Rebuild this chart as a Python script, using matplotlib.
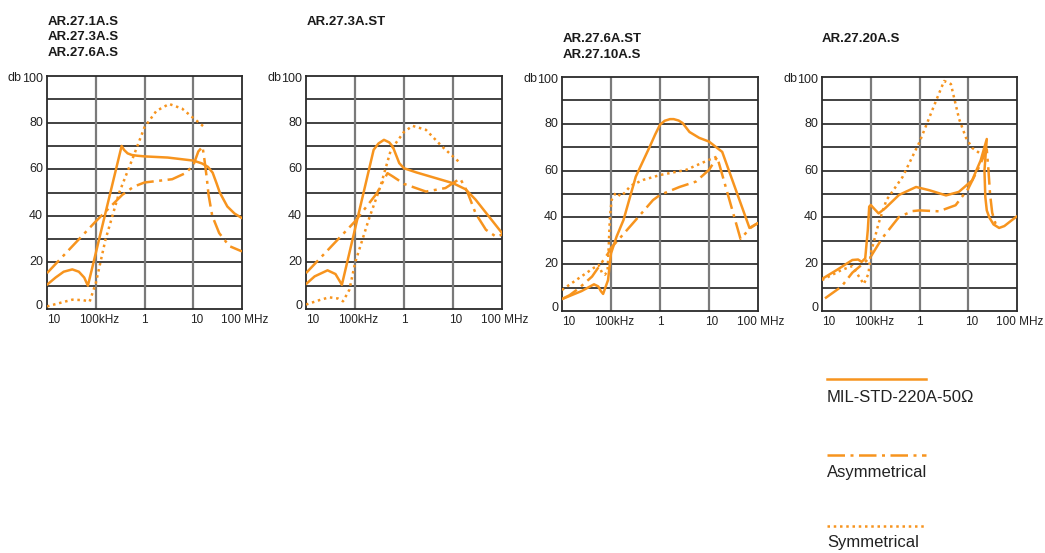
import matplotlib
matplotlib.use("Agg")
import matplotlib.pyplot as plt
from matplotlib.transforms import offset_copy
from matplotlib.lines import Line2D

W, H = 1045, 553
ORANGE = "#F7941E"

# ---------------- data (frequency in MHz, attenuation in dB) ----------------
titles = [
    ["AR.27.1A.S", "AR.27.3A.S", "AR.27.6A.S"],
    ["AR.27.3A.ST"],
    ["AR.27.6A.ST", "AR.27.10A.S"],
    ["AR.27.20A.S"],
]
series_names = ["MIL-STD-220A-50\u03a9", "Asymmetrical", "Symmetrical"]
y_ticks = [0, 20, 40, 60, 80, 100]
x_tick_vals = [0.01, 0.1, 1, 10, 100]
x_tick_labels = ["10", "100kHz", "1", "10", "100 MHz"]

# panel 1
p1_mil_f = [0.01, 0.015, 0.022, 0.033, 0.045, 0.058, 0.069, 0.34, 0.38, 0.45, 0.55, 0.7, 1, 3, 10, 15, 20, 25, 30, 35, 50, 70, 100]
p1_mil_db = [10.4, 13.5, 16, 17, 16, 13.5, 10, 70, 68.3, 66.8, 66.1, 65.8, 65.5, 65, 63.7, 62.5, 61, 58.5, 54, 50, 44, 41, 39]
p1_asym_f = [0.01, 0.1, 0.35, 0.6, 1, 3.7, 6.9, 10, 12.7, 15.5, 17, 19, 20.6, 24.5, 34, 55, 100]
p1_asym_db = [15.4, 37.6, 49, 52.5, 54.3, 55.7, 58.3, 61.6, 67.6, 69.7, 64, 56, 49, 40, 32.6, 27, 24.7]
p1_sym_f = [0.01, 0.02, 0.033, 0.055, 0.075, 0.1, 0.158, 0.3, 0.59, 1, 1.75, 3.2, 5.9, 10, 17]
p1_sym_db = [1.1, 2.8, 4, 3.8, 3.2, 11, 29.7, 49.7, 65.4, 78, 85, 88, 86, 82, 78]

# panel 2
p2_mil_f = [0.01, 0.015, 0.0275, 0.04, 0.054, 0.24, 0.3, 0.39, 0.5, 0.59, 0.8, 1, 1.8, 10, 18, 29, 100]
p2_mil_db = [10.7, 14, 16.6, 15, 10.4, 68.3, 71, 72.6, 71.5, 69.7, 62.6, 60.4, 58.6, 54, 51.4, 46.9, 32.6]
p2_asym_f = [0.01, 0.1, 0.28, 0.38, 0.46, 0.59, 1, 2.8, 7, 10, 14, 19.5, 29, 47, 76, 100]
p2_asym_db = [15.4, 37.6, 49.7, 55, 58.3, 56.9, 53.7, 50.4, 51.9, 54, 56, 50.4, 41, 34, 31, 31.9]
p2_sym_f = [0.01, 0.02, 0.03, 0.045, 0.057, 0.077, 0.1, 0.19, 0.33, 0.54, 1, 1.5, 2.8, 6, 13]
p2_sym_db = [1.9, 4, 5, 4.5, 3.3, 8.3, 19.7, 38.3, 52.6, 68.3, 76, 78.6, 76.9, 69.7, 63.3]

# panel 3
p3_mil_f = [0.01, 0.025, 0.045, 0.055, 0.062, 0.069, 0.087, 0.1, 0.13, 0.18, 0.32, 0.62, 0.8, 1, 1.25, 1.6, 1.9, 2.4, 2.9, 4, 6.3, 10, 18.6, 67, 100]
p3_mil_db = [5.1, 8.5, 11.4, 10.5, 8.5, 7.3, 13.2, 24.6, 31.8, 38.9, 57.4, 70.3, 75.5, 79.6, 81.3, 82, 82, 81.4, 80.3, 76.5, 74, 72.4, 68, 35.5, 37.6]
p3_asym_f = [0.01, 0.0144, 0.022, 0.041, 0.087, 0.1, 0.14, 0.32, 0.72, 1, 2.5, 5.4, 10, 14.7, 44, 70, 100]
p3_asym_db = [5.1, 6.8, 9.7, 14.7, 24.6, 27, 30.3, 38.9, 47.4, 49.6, 53, 55.3, 60.3, 65.8, 30.8, 35.5, 37.6]
p3_sym_f = [0.01, 0.022, 0.045, 0.056, 0.065, 0.075, 0.085, 0.09, 0.095, 0.103, 0.125, 0.16, 0.2, 0.25, 0.45, 1, 3.4, 10, 14.7]
p3_sym_db = [9, 14, 18.5, 19.7, 16.5, 15.5, 17, 28, 40, 47.5, 50.6, 49, 51, 53.5, 56, 58.1, 60.3, 64.6, 66]

# panel 4
p4_mil_f = [0.01, 0.02, 0.042, 0.055, 0.065, 0.077, 0.087, 0.093, 0.1, 0.12, 0.145, 0.2, 0.38, 0.85, 1.6, 3.5, 6.4, 12, 18, 24,
            21.5, 22.4, 24, 27, 33, 43, 55, 75, 100]
p4_mil_db = [13.7, 17.5, 21.8, 22, 21, 22.5, 34.6, 44.6, 45.3, 43.5, 41.7, 44, 49.6, 53, 51.6, 49.4, 50.9, 55.8, 64.4, 73.5,
             60, 48.7, 43, 40, 37, 35.5, 36.3, 38.5, 40.5]
p4_asym_f = [0.0115, 0.025, 0.042, 0.077, 0.1, 0.17, 0.38, 0.72, 1, 2.5, 5.5, 10, 16.6, 24, 26, 28, 31, 36, 43]
p4_asym_db = [5.4, 10.4, 16.4, 21, 23.2, 31, 40.2, 42.7, 43, 42.6, 45.2, 52.3, 61.5, 69, 60, 50, 42, 37.5, 35.8]
p4_sym_f = [0.01, 0.025, 0.042, 0.052, 0.072, 0.09, 0.1, 0.145, 0.21, 0.45, 1, 2.2, 3.2, 4.4, 6.5, 9, 12, 17, 21]
p4_sym_db = [13.2, 17.5, 19.2, 16.1, 11.5, 16, 24.6, 37.5, 47.4, 57.3, 72.2, 90, 98.3, 97, 82, 74, 69.7, 67.5, 66.7]

panels = [
    [(p1_mil_f, p1_mil_db), (p1_asym_f, p1_asym_db), (p1_sym_f, p1_sym_db)],
    [(p2_mil_f, p2_mil_db), (p2_asym_f, p2_asym_db), (p2_sym_f, p2_sym_db)],
    [(p3_mil_f, p3_mil_db), (p3_asym_f, p3_asym_db), (p3_sym_f, p3_sym_db)],
    [(p4_mil_f, p4_mil_db), (p4_asym_f, p4_asym_db), (p4_sym_f, p4_sym_db)],
]

# ---------------- layout (pixels) ----------------
boxes = [(47, 242, 76, 309), (306, 502, 76, 309), (562, 758, 77, 311), (822, 1017, 77, 311)]
title_pos = [(48, [22, 37, 53]), (307, [22]), (563, [39, 55]), (822, [39])]

LW = 1.8
styles = [
    dict(linestyle="-", lw=LW),
    dict(linestyle=(0, (7, 2.2, 1.2, 2.2)), lw=LW),
    dict(linestyle=(0, (1, 1.5)), lw=LW),
]

plt.rcParams["font.family"] = ["Liberation Sans", "DejaVu Sans"]
fig = plt.figure(figsize=(W / 100, H / 100), dpi=100)

for i, (l, r, t, b) in enumerate(boxes):
    ax = fig.add_axes([l / W, 1 - b / H, (r - l) / W, (b - t) / H])
    ax.set_xscale("log")
    ax.set_xlim(0.01, 100)
    ax.set_ylim(0, 100)
    for yv in range(10, 100, 10):
        ax.axhline(yv, color="#2a2a2a", lw=1.25, zorder=1)
    for xv in x_tick_vals[1:-1]:
        ax.axvline(xv, color="#7a7a7a", lw=1.6, zorder=1)
    for s in ax.spines.values():
        s.set_color("#2a2a2a")
        s.set_linewidth(1.3)
    ax.set_xticks([])
    ax.set_yticks([])
    ax.minorticks_off()
    ax.tick_params(which="both", length=0, labelbottom=False, labelleft=False)

    for (fx, dy), st in zip(panels[i], styles):
        ax.plot(fx, dy, color=ORANGE, solid_capstyle="round", solid_joinstyle="round",
                dash_capstyle="butt", zorder=3, **st)

    # y labels
    for yv in y_ticks:
        dyo = 3 if yv == 0 else (-3 if yv == 100 else 0)
        tr = offset_copy(ax.get_yaxis_transform(), fig=fig, x=-4, y=dyo, units="dots")
        ax.text(0, yv, str(yv), transform=tr, ha="right", va="center", fontsize=9, color="#222222")
    tr = offset_copy(ax.get_yaxis_transform(), fig=fig, x=-25, y=-2, units="dots")
    ax.text(0, 100, "db", transform=tr, ha="right", va="center", fontsize=9, color="#222222")

    # x labels
    offs = [(7, "center"), (3, "center"), (0, "center"), (3, "center"), (-21, "left")]
    for xv, lab, (dx, ha) in zip(x_tick_vals, x_tick_labels, offs):
        tr = offset_copy(ax.get_xaxis_transform(), fig=fig, x=dx, y=-11, units="dots")
        ax.text(xv, 0, lab, transform=tr, ha=ha, va="center", fontsize=8.5, color="#222222")

    # title
    tx, tys = title_pos[i]
    for line, ty in zip(titles[i], tys):
        fig.text(tx / W, 1 - ty / H, line, ha="left", va="center", fontsize=9.5,
                 fontweight="bold", color="#1a1a1a")

# ---------------- legend ----------------
leg_line_y = [379, 455, 526]
leg_text_y = [398, 473, 543]
for name, st, ly, ty in zip(series_names, styles, leg_line_y, leg_text_y):
    fig.add_artist(Line2D([827 / W, 926 / W], [1 - ly / H, 1 - ly / H], color=ORANGE,
                          linestyle=st["linestyle"], lw=LW, dash_capstyle="butt"))
    fig.text(827 / W, 1 - ty / H, name, ha="left", va="center", fontsize=12, color="#222222")

fig.savefig("out.png", dpi=100)
